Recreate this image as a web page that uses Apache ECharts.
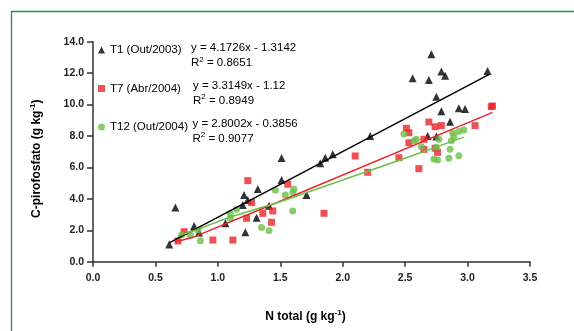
<!DOCTYPE html>
<html>
<head>
<meta charset="utf-8">
<script src="https://cdn.jsdelivr.net/npm/echarts@6/dist/echarts.min.js"></script>
<style>
html,body{margin:0;padding:0;background:#fff;}
#c{width:574px;height:331px;}
</style>
</head>
<body>
<div id="c"></div>
<script>
// ---- Data ----
const seriesNames = ['T1 (Out/2003)', 'T7 (Abr/2004)', 'T12 (Out/2004)'];

const t1 = [
  [0.61,1.10],[0.66,3.45],[0.81,2.27],[0.85,1.86],[1.06,2.44],[1.21,4.25],[1.20,3.61],
  [1.24,3.93],[1.22,1.87],[1.32,4.63],[1.31,2.80],[1.41,3.56],[1.51,5.20],[1.51,6.60],
  [1.71,4.25],[1.82,6.26],[1.86,6.62],[1.92,6.84],[2.22,8.00],[2.56,11.67],[2.69,11.57],
  [2.71,13.20],[2.79,12.10],[2.82,11.84],[3.16,12.14],[2.75,10.50],[2.79,9.57],[2.93,9.76],
  [2.98,9.72],[2.86,8.91],[2.68,8.00],[2.75,7.96]
];
const t7 = [
  [0.68,1.32],[0.73,1.91],[0.96,1.38],[1.12,1.38],[1.24,5.16],[1.27,3.76],[1.23,2.76],
  [1.36,3.08],[1.44,3.23],[1.43,2.51],[1.56,4.93],[1.85,3.08],[2.10,6.73],[2.20,5.69],
  [2.45,6.62],[2.51,8.49],[2.53,8.21],[2.53,7.57],[2.61,5.92],[2.65,7.79],[2.65,7.15],
  [2.69,8.89],[2.74,8.59],[2.74,7.22],[2.76,6.96],[2.79,8.66],[3.06,8.66],[3.19,9.87],[3.20,9.91]
];
const t12 = [
  [0.71,1.70],[0.78,1.70],[0.86,1.34],[0.84,2.02],[1.10,3.06],[1.10,2.76],[1.15,3.33],
  [1.35,2.17],[1.41,1.97],[1.46,4.54],[1.54,4.25],[1.61,4.63],[1.60,4.42],[1.60,3.23],
  [2.49,8.13],[2.57,7.70],[2.59,7.79],[2.63,7.32],[2.77,7.79],[2.75,7.28],[2.88,8.21],
  [2.93,8.28],[2.97,8.38],[2.89,7.96],[2.87,7.70],[2.86,7.15],[2.73,6.54],[2.76,6.47],
  [2.85,6.58],[2.93,6.75]
];

// trend lines
const trendT1 = [[0.61,1.20],[3.17,11.90]];
const trendT7 = [[0.66,1.25],[0.80,1.55],[1.58,4.12],[3.20,9.50]];
const trendT12 = [[0.68,1.62],[0.85,2.10],[1.10,2.85],[1.50,3.82],[2.46,6.47],[2.97,7.93]];

const equations = ['y = 4.1726x - 1.3142', 'y = 3.3149x - 1.12', 'y = 2.8002x - 0.3856'];
const r2Values = ['0.8651', '0.8949', '0.9077'];

const xTicks = {min: 0, max: 3.5, interval: 0.5};
const yTicks = {min: 0, max: 14, interval: 2};

// ---- Chart ----
const FONT = '"Liberation Sans", Arial, sans-serif';
const BLACK = '#000000', RED = '#e8262b', GREEN = '#6cbf47';
const chart = echarts.init(document.getElementById('c'));

const eqY = [[47.5, 63.3], [85.5, 100.5], [123.5, 138.5]];
const eqX = [191, 193, 192.5];
const graphics = [{
  type: 'rect', shape: {x: 11.5, y: 11.5, width: 700, height: 500},
  style: {fill: 'none', stroke: '#2c8c4c', lineWidth: 1.3}, silent: true, z: -1
}];
equations.forEach((eq, i) => {
  graphics.push({type: 'text', x: eqX[i], y: eqY[i][0],
    style: {text: eq, fontSize: 11.5, fontFamily: FONT, fill: '#000', verticalAlign: 'middle'}});
  graphics.push({type: 'text', x: eqX[i], y: eqY[i][1],
    style: {text: 'R{s|2} = ' + r2Values[i], fontSize: 11.5, fontFamily: FONT, fill: '#000',
      verticalAlign: 'middle',
      rich: {s: {fontSize: 8, fontFamily: FONT, fill: '#000', padding: [0, 0, 7, 0]}}}});
});

const axisLineStyle = {color: '#333', width: 1.5};
const option = {
  animation: false,
  backgroundColor: '#ffffff',
  grid: {left: 93, right: 44, top: 41.7, bottom: 69.3, containLabel: false},
  xAxis: {
    type: 'value', min: xTicks.min, max: xTicks.max, interval: xTicks.interval,
    splitLine: {show: false},
    axisLine: {onZero: false, lineStyle: axisLineStyle},
    axisTick: {show: true, length: 5, lineStyle: axisLineStyle},
    axisLabel: {formatter: v => v.toFixed(1), fontSize: 10.5, fontWeight: 'bold', color: '#222', fontFamily: FONT, margin: 11},
    name: 'N total (g kg{sup|-1})', nameLocation: 'middle', nameGap: 47,
    nameTextStyle: {fontSize: 12, fontWeight: 'bold', color: '#000', fontFamily: FONT, padding: [0, 12, 0, 0],
      rich: {sup: {fontSize: 8, fontWeight: 'bold', fontFamily: FONT, color: '#000', padding: [0, 0, 7, 0]}}}
  },
  yAxis: {
    type: 'value', min: yTicks.min, max: yTicks.max, interval: yTicks.interval,
    splitLine: {show: false},
    axisLine: {show: true, onZero: false, lineStyle: axisLineStyle},
    axisTick: {show: true, length: 6, lineStyle: axisLineStyle},
    axisLabel: {formatter: v => v.toFixed(1), fontSize: 10.5, fontWeight: 'bold', color: '#222', fontFamily: FONT, margin: 9},
    name: 'C-pirofosfato (g kg{sup|-1})', nameLocation: 'middle', nameGap: 49,
    nameTextStyle: {fontSize: 12, fontWeight: 'bold', color: '#000', fontFamily: FONT, padding: [0, 14, 0, 0],
      rich: {sup: {fontSize: 8, fontWeight: 'bold', fontFamily: FONT, color: '#000', padding: [0, 0, 7, 0]}}}
  },
  legend: {
    orient: 'vertical', left: 98, top: 43, itemGap: 24.5, padding: 0,
    itemWidth: 7, itemHeight: 7,
    textStyle: {fontSize: 11.5, color: '#000', fontFamily: FONT, lineHeight: 14},
    data: [
      {name: seriesNames[0], icon: 'triangle'},
      {name: seriesNames[1], icon: 'rect'},
      {name: seriesNames[2], icon: 'circle'}
    ]
  },
  graphic: graphics,
  series: [
    {name: seriesNames[0], type: 'scatter', data: t1, symbol: 'triangle', symbolSize: 8,
      itemStyle: {color: BLACK}, z: 2},
    {name: seriesNames[1], type: 'scatter', data: t7, symbol: 'rect', symbolSize: 7,
      itemStyle: {color: RED}, z: 3},
    {name: seriesNames[2], type: 'scatter', data: t12, symbol: 'circle', symbolSize: 7,
      itemStyle: {color: GREEN}, z: 4},
    {name: 'trend T1', type: 'line', data: trendT1, showSymbol: false, symbol: 'none',
      lineStyle: {color: BLACK, width: 1.5}, z: 5, silent: true},
    {name: 'trend T7', type: 'line', data: trendT7, showSymbol: false, symbol: 'none',
      lineStyle: {color: RED, width: 1.5}, z: 5, silent: true},
    {name: 'trend T12', type: 'line', data: trendT12, showSymbol: false, symbol: 'none',
      lineStyle: {color: GREEN, width: 1.5}, z: 5, silent: true}
  ]
};
chart.setOption(option);
</script>
</body>
</html>
